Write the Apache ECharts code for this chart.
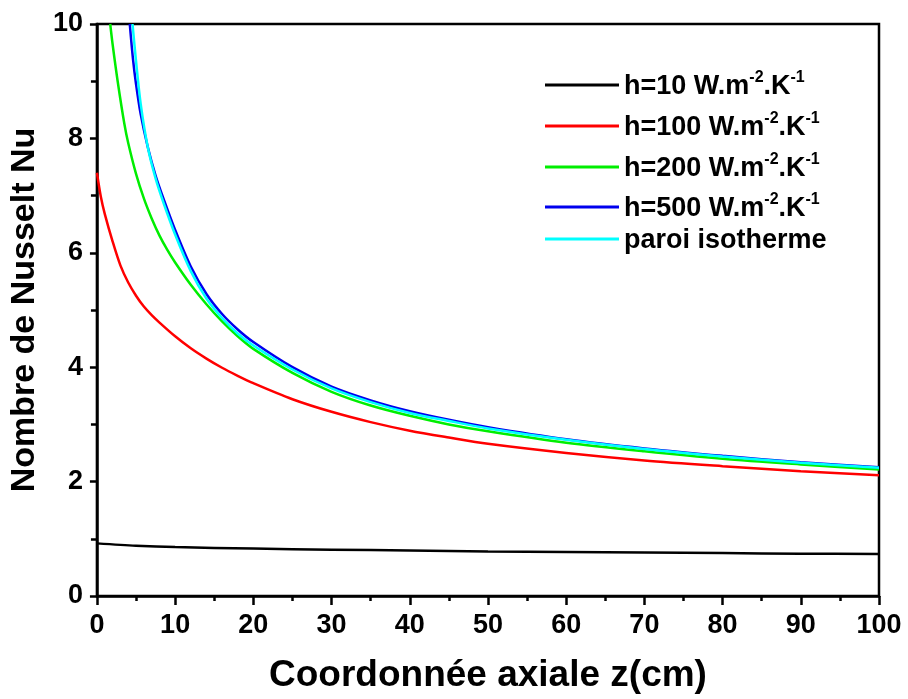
<!DOCTYPE html>
<html>
<head>
<meta charset="utf-8">
<script src="https://cdn.jsdelivr.net/npm/echarts@6/dist/echarts.min.js"></script>
<style>
  html, body { margin: 0; padding: 0; background: #fff; }
  #main { width: 908px; height: 699px; }
</style>
</head>
<body>
<div id="main"></div>
<script>
// axial coordinate z (cm) and local Nusselt number
var zH10 = [0, 5, 10, 20, 30, 40, 50, 60, 70, 80, 90, 100];
var nuH10 = [0.92, 0.88, 0.855, 0.83, 0.81, 0.795, 0.78, 0.77, 0.76, 0.75, 0.74, 0.735];

var zH100 = [0, 0.5, 1, 2, 3, 4, 5, 6, 7, 8, 10, 12, 14, 16, 18, 20, 25, 30, 35, 40, 45, 50, 60, 70, 80, 90, 100];
var nuH100 = [7.4, 6.98, 6.68, 6.2, 5.78, 5.48, 5.25, 5.06, 4.91, 4.78, 4.54, 4.33, 4.15, 3.99, 3.85, 3.72, 3.44, 3.22, 3.04, 2.89, 2.77, 2.66, 2.5, 2.37, 2.27, 2.18, 2.11];

var zH200 = [1.7, 2, 2.65, 3.5, 4, 5, 6, 7, 8, 9, 10, 12, 14, 16, 18, 20, 25, 30, 35, 40, 45, 50, 60, 70, 80, 90, 100];
var nuH200 = [10, 9.65, 9.0, 8.26, 7.92, 7.38, 6.95, 6.6, 6.3, 6.05, 5.83, 5.44, 5.1, 4.8, 4.54, 4.32, 3.9, 3.57, 3.33, 3.15, 3.0, 2.88, 2.68, 2.53, 2.4, 2.3, 2.21];

var zH500 = [4.2, 4.6, 5, 5.6, 6.5, 7.5, 8.5, 10, 12, 14, 16, 18, 20, 25, 30, 35, 40, 45, 50, 60, 70, 80, 90, 100];
var nuH500 = [10, 9.4, 8.95, 8.42, 7.85, 7.35, 6.95, 6.4, 5.76, 5.28, 4.93, 4.66, 4.44, 4.0, 3.66, 3.42, 3.23, 3.08, 2.95, 2.74, 2.58, 2.45, 2.34, 2.25];

var zIso = [4.55, 5, 5.6, 6.5, 7.5, 8.5, 10, 12, 14, 16, 18, 20, 25, 30, 35, 40, 45, 50, 60, 70, 80, 90, 100];
var nuIso = [10, 9.35, 8.6, 7.85, 7.3, 6.88, 6.32, 5.68, 5.2, 4.86, 4.59, 4.38, 3.96, 3.63, 3.39, 3.2, 3.06, 2.93, 2.73, 2.57, 2.44, 2.33, 2.24];

var seriesNames = ['h10', 'h100', 'h200', 'h500', 'iso'];
var seriesColors = ['#000000', '#ff0000', '#00ee00', '#0000ee', '#00ffff'];
var legendTexts = [
  '{t|h=10 W.m}{s|-2}{t|.K}{s|-1}',
  '{t|h=100 W.m}{s|-2}{t|.K}{s|-1}',
  '{t|h=200 W.m}{s|-2}{t|.K}{s|-1}',
  '{t|h=500 W.m}{s|-2}{t|.K}{s|-1}',
  '{t|paroi isotherme}'
];
var legendTops = [85, 126, 167, 207, 242];

function pairs(xs, ys) {
  var out = [];
  for (var i = 0; i < xs.length; i++) out.push([xs[i], ys[i]]);
  return out;
}

var allData = [
  pairs(zH10, nuH10),
  pairs(zH100, nuH100),
  pairs(zH200, nuH200),
  pairs(zH500, nuH500),
  pairs(zIso, nuIso)
];

var font = 'Liberation Sans, Arial, sans-serif';
var chart = echarts.init(document.getElementById('main'));

var series = [];
var legends = [];
for (var i = 0; i < seriesNames.length; i++) {
  series.push({
    name: seriesNames[i],
    type: 'line',
    data: allData[i],
    symbol: 'none',
    smooth: 0.3,
    clip: true,
    lineStyle: { color: seriesColors[i], width: 2.5 },
    itemStyle: { color: seriesColors[i] }
  });
  (function (idx) {
    legends.push({
      data: [seriesNames[idx]],
      left: 545,
      top: legendTops[idx] - 15,
      padding: 0,
      icon: 'rect',
      itemWidth: 74,
      itemHeight: 3,
      selectedMode: false,
      formatter: function () { return legendTexts[idx]; },
      textStyle: {
        rich: {
          t: { fontFamily: font, fontWeight: 'bold', fontSize: 27, color: '#000', verticalAlign: 'bottom', lineHeight: 30 },
          s: { fontFamily: font, fontWeight: 'bold', fontSize: 16, color: '#000', verticalAlign: 'top', lineHeight: 30 }
        }
      }
    });
  })(i);
}

var option = {
  backgroundColor: '#ffffff',
  animation: false,
  legend: legends,
  grid: {
    left: 96, right: 29, top: 24, bottom: 102,
    show: true, borderColor: '#000', borderWidth: 2.5
  },
  xAxis: {
    type: 'value',
    min: 0, max: 100, interval: 10,
    name: 'Coordonnée axiale z(cm)',
    nameLocation: 'middle',
    nameGap: 61,
    nameTextStyle: { fontFamily: font, fontWeight: 'bold', fontSize: 37, color: '#000' },
    axisLine: { lineStyle: { color: '#000', width: 2.5 } },
    axisTick: { inside: false, length: 9, lineStyle: { color: '#000', width: 2.5 } },
    minorTick: { show: true, splitNumber: 2, length: 5, lineStyle: { color: '#000', width: 2.5 } },
    axisLabel: { margin: 16, fontFamily: font, fontWeight: 'bold', fontSize: 27, color: '#000' },
    splitLine: { show: false }
  },
  yAxis: {
    type: 'value',
    min: 0, max: 10, interval: 2,
    name: 'Nombre de Nusselt Nu',
    nameLocation: 'middle',
    nameGap: 50,
    nameTextStyle: { fontFamily: font, fontWeight: 'bold', fontSize: 34, color: '#000' },
    axisLine: { lineStyle: { color: '#000', width: 2.5 } },
    axisTick: { inside: false, length: 7, lineStyle: { color: '#000', width: 2.5 } },
    minorTick: { show: true, splitNumber: 2, length: 6, lineStyle: { color: '#000', width: 2.5 } },
    axisLabel: { margin: 14, fontFamily: font, fontWeight: 'bold', fontSize: 27, color: '#000' },
    splitLine: { show: false }
  },
  series: series
};
chart.setOption(option);
</script>
</body>
</html>
